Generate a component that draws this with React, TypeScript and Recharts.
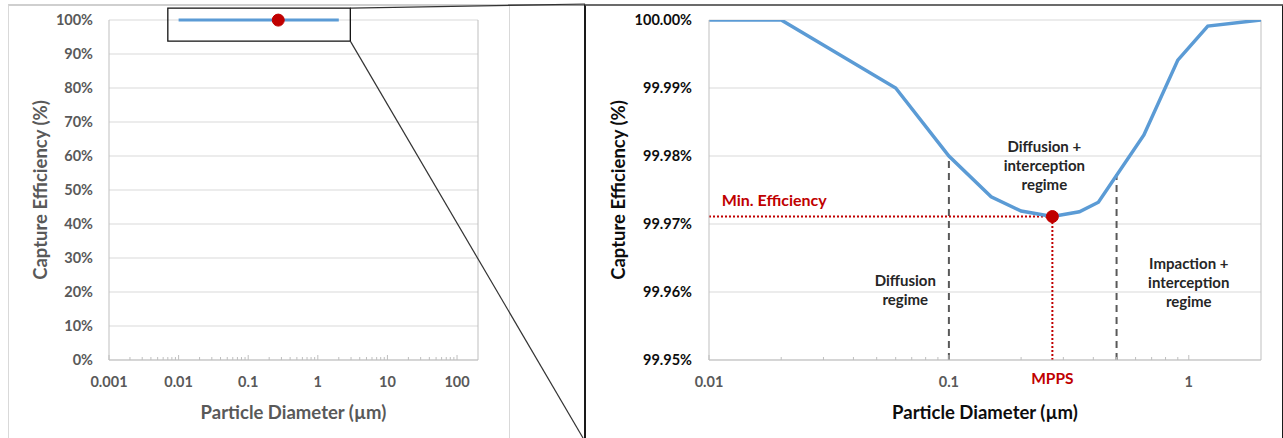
import React from 'react';
import {
  LineChart,
  Line,
  XAxis,
  YAxis,
  CartesianGrid,
  ReferenceLine,
  ReferenceDot,
  ReferenceArea,
  Label,
} from 'recharts';

// ---------- data ----------
const DIAMETERS = [0.01, 0.02, 0.06, 0.1, 0.15, 0.2, 0.27, 0.35, 0.42, 0.65, 0.9, 1.2, 2];
const EFFICIENCY = [100.0, 100.0, 99.99, 99.98, 99.9740, 99.9719, 99.9711, 99.9718, 99.9732, 99.9831, 99.9941, 99.9991, 100.0];

const MPPS = 0.27;
const MIN_EFF = 99.9711;

// left (full range) chart axes
const LEFT_X_DOMAIN = [0.001, 200];
const LEFT_X_MAJOR = [0.001, 0.01, 0.1, 1, 10, 100];
const LEFT_X_MINOR = [
  0.002, 0.003, 0.004, 0.005, 0.006, 0.007, 0.008, 0.009,
  0.02, 0.03, 0.04, 0.05, 0.06, 0.07, 0.08, 0.09,
  0.2, 0.3, 0.4, 0.5, 0.6, 0.7, 0.8, 0.9,
  2, 3, 4, 5, 6, 7, 8, 9,
  20, 30, 40, 50, 60, 70, 80, 90,
];
const LEFT_Y_TICKS = [0, 10, 20, 30, 40, 50, 60, 70, 80, 90, 100];

// right (zoomed) chart axes
const RIGHT_X_DOMAIN = [0.01, 2];
const RIGHT_X_MAJOR = [0.01, 0.1, 1];
const RIGHT_X_MINOR = [0.02, 0.03, 0.04, 0.05, 0.06, 0.07, 0.08, 0.09, 0.2, 0.3, 0.4, 0.5, 0.6, 0.7, 0.8, 0.9];
const RIGHT_Y_TICKS = [99.95, 99.96, 99.97, 99.98, 99.99, 100];

// regime boundaries (x, top of dashed line)
const BOUNDARY_X = [0.1, 0.5];
const BOUNDARY_TOP = [99.98, 99.9773];

// zoom box on the left chart and connector ends (data units of the left chart)
const ZOOM_BOX_X = [0.007, 2.93];
const ZOOM_BOX_Y = [93.8, 103.5];
const CONNECT_TOP = { x: 6900, y: 104.7 };
const CONNECT_BOTTOM = { x: 6457, y: -22.94 };

// text annotations
const ANNOTATION_LINES = [
  ['Diffusion +', 'interception', 'regime'],
  ['Diffusion', 'regime'],
  ['Impaction +', 'interception', 'regime'],
];
const ANNOTATION_X = [0.25, 0.0658, 1.0];
const ANNOTATION_Y = [99.98132, 99.96162, 99.96412];

const X_TITLE = 'Particle Diameter (µm)';
const Y_TITLE = 'Capture Efficiency (%)';

const FONT = 'Lato, "Open Sans", "DejaVu Sans", sans-serif';
const BLUE = '#5b9bd5';
const RED = '#c00000';
const GRID = '#d9d9d9';
const AXIS = '#bfbfbf';

const rows = DIAMETERS.map((d, i) => ({ d, e: EFFICIENCY[i] }));

const fmtNum = (v: number) => String(v);

const makeXTick = (majors: number[], color: string) => (props: any) => {
  const { x, y, payload } = props;
  const v = payload.value;
  const isMajor = majors.some((m) => Math.abs(m - v) < 1e-12);
  return (
    <g>
      <line x1={x} x2={x} y1={y} y2={y - (isMajor ? 5 : 3)} stroke={AXIS} strokeWidth={1} />
      {isMajor && (
        <text
          x={x}
          y={y + 27}
          textAnchor="middle"
          fill={color}
          fontSize={14.5}
          fontWeight="bold"
          fontFamily={FONT}
        >
          {fmtNum(v)}
        </text>
      )}
    </g>
  );
};

const yTitle = (dx: number, color: string) => (props: any) => {
  const vb = props.viewBox;
  const cx = vb.x + dx;
  const cy = vb.y + vb.height / 2;
  return (
    <text
      x={cx}
      y={cy}
      transform={`rotate(-90, ${cx}, ${cy})`}
      textAnchor="middle"
      dominantBaseline="central"
      fill={color}
      fontSize={18.5}
      fontWeight="bold"
      fontFamily={FONT}
    >
      {Y_TITLE}
    </text>
  );
};

const xTitle = (color: string) => (props: any) => {
  const vb = props.viewBox;
  return (
    <text
      x={vb.x + vb.width / 2}
      y={vb.y + 52}
      textAnchor="middle"
      dominantBaseline="central"
      fill={color}
      fontSize={18.5}
      fontWeight="bold"
      fontFamily={FONT}
    >
      {X_TITLE}
    </text>
  );
};

const textShape =
  (lines: string[], color: string, size: number, anchor: 'start' | 'middle', dy = 0, weight = 'bold') =>
  (p: any) => (
    <text
      x={p.cx}
      y={p.cy + dy}
      textAnchor={anchor}
      fill={color}
      fontSize={size}
      fontWeight={weight}
      fontFamily={FONT}
    >
      {lines.map((l, i) => (
        <tspan key={i} x={p.cx} dy={i === 0 ? '0.35em' : 19}>
          {l}
        </tspan>
      ))}
    </text>
  );

function LeftChart() {
  return (
    <LineChart width={600} height={438} data={rows} margin={{ top: 20, right: 122, bottom: 0, left: 0 }}>
      <CartesianGrid vertical={false} stroke={GRID} strokeWidth={1} />
      <XAxis
        dataKey="d"
        type="number"
        scale="log"
        domain={LEFT_X_DOMAIN}
        allowDataOverflow
        ticks={[...LEFT_X_MAJOR, ...LEFT_X_MINOR].sort((a, b) => a - b)}
        interval={0}
        height={78}
        tickSize={0}
        tickMargin={0}
        axisLine={{ stroke: AXIS }}
        tickLine={false}
        tick={makeXTick(LEFT_X_MAJOR, '#595959')}
      >
        <Label content={xTitle('#595959')} />
      </XAxis>
      <YAxis
        type="number"
        domain={[0, 100]}
        ticks={LEFT_Y_TICKS}
        interval={0}
        width={109}
        tickSize={0}
        tickMargin={16}
        axisLine={{ stroke: AXIS }}
        tickLine={false}
        tickFormatter={(v: number) => `${v}%`}
        tick={{ fill: '#595959', fontSize: 14.5, fontWeight: 'bold', fontFamily: FONT }}
      >
        <Label content={yTitle(40, '#595959')} />
      </YAxis>
      <ReferenceLine x={LEFT_X_DOMAIN[1]} stroke={AXIS} />
      <Line
        dataKey="e"
        type="linear"
        stroke={BLUE}
        strokeWidth={3}
        dot={false}
        isAnimationActive={false}
      />
      <ReferenceDot x={MPPS} y={MIN_EFF} r={6} fill={RED} stroke={RED} ifOverflow="visible" />
      <ReferenceArea
        x1={ZOOM_BOX_X[0]}
        x2={ZOOM_BOX_X[1]}
        y1={ZOOM_BOX_Y[0]}
        y2={ZOOM_BOX_Y[1]}
        fill="none"
        fillOpacity={0}
        stroke="#111"
        strokeWidth={1.3}
        ifOverflow="visible"
      />
      <ReferenceLine
        segment={[{ x: ZOOM_BOX_X[1], y: ZOOM_BOX_Y[1] }, CONNECT_TOP]}
        stroke="#333"
        strokeWidth={1.2}
        ifOverflow="visible"
      />
      <ReferenceLine
        segment={[{ x: ZOOM_BOX_X[1], y: ZOOM_BOX_Y[0] }, CONNECT_BOTTOM]}
        stroke="#333"
        strokeWidth={1.2}
        ifOverflow="visible"
      />
    </LineChart>
  );
}

function RightChart() {
  return (
    <LineChart width={698} height={438} data={rows} margin={{ top: 20, right: 22, bottom: 0, left: 0 }}>
      <CartesianGrid vertical={false} stroke={GRID} strokeWidth={1} />
      <XAxis
        dataKey="d"
        type="number"
        scale="log"
        domain={RIGHT_X_DOMAIN}
        allowDataOverflow
        ticks={[...RIGHT_X_MAJOR, ...RIGHT_X_MINOR].sort((a, b) => a - b)}
        interval={0}
        height={78}
        tickSize={0}
        tickMargin={0}
        axisLine={{ stroke: AXIS }}
        tickLine={false}
        tick={makeXTick(RIGHT_X_MAJOR, '#595959')}
      >
        <Label content={xTitle('#0d0d0d')} />
      </XAxis>
      <YAxis
        type="number"
        domain={[RIGHT_Y_TICKS[0], RIGHT_Y_TICKS[RIGHT_Y_TICKS.length - 1]]}
        ticks={RIGHT_Y_TICKS}
        interval={0}
        allowDataOverflow
        width={124}
        tickSize={0}
        tickMargin={17}
        axisLine={{ stroke: AXIS }}
        tickLine={false}
        tickFormatter={(v: number) => `${v.toFixed(2)}%`}
        tick={{ fill: '#0d0d0d', fontSize: 14.5, fontWeight: 'bold', fontFamily: FONT }}
      >
        <Label content={yTitle(33, '#0d0d0d')} />
      </YAxis>
      <ReferenceLine x={RIGHT_X_DOMAIN[1]} stroke={AXIS} />
      {BOUNDARY_X.map((bx, i) => (
        <ReferenceLine
          key={`b${i}`}
          segment={[
            { x: bx, y: RIGHT_Y_TICKS[0] },
            { x: bx, y: BOUNDARY_TOP[i] },
          ]}
          stroke="#595959"
          strokeWidth={2}
          strokeDasharray="7 5"
        />
      ))}
      <ReferenceLine
        segment={[
          { x: RIGHT_X_DOMAIN[0], y: MIN_EFF },
          { x: MPPS, y: MIN_EFF },
        ]}
        stroke={RED}
        strokeWidth={2}
        strokeDasharray="2 2"
      />
      <ReferenceLine
        segment={[
          { x: MPPS, y: RIGHT_Y_TICKS[0] },
          { x: MPPS, y: MIN_EFF },
        ]}
        stroke={RED}
        strokeWidth={2}
        strokeDasharray="2 2"
      />
      <Line
        dataKey="e"
        type="linear"
        stroke={BLUE}
        strokeWidth={3.5}
        dot={false}
        isAnimationActive={false}
      />
      <ReferenceDot x={MPPS} y={MIN_EFF} r={6} fill={RED} stroke={RED} ifOverflow="visible" />
      {ANNOTATION_LINES.map((lines, i) => (
        <ReferenceDot
          key={`a${i}`}
          x={ANNOTATION_X[i]}
          y={ANNOTATION_Y[i]}
          r={1}
          ifOverflow="visible"
          shape={textShape(lines, '#262626', 15, 'middle')}
        />
      ))}
      <ReferenceDot
        x={0.0113}
        y={99.97353}
        r={1}
        ifOverflow="visible"
        shape={textShape(['Min. Efficiency'], RED, 16, 'start')}
      />
      <ReferenceDot
        x={MPPS}
        y={RIGHT_Y_TICKS[0]}
        r={1}
        ifOverflow="visible"
        shape={textShape(['MPPS'], RED, 15.5, 'middle', 19)}
      />
    </LineChart>
  );
}

export default function App() {
  return (
    <div style={{ position: 'absolute', left: 0, top: 0, width: 1283, height: 438, background: '#fff', overflow: 'hidden' }}>
      {/* panel frames */}
      <div style={{ position: 'absolute', left: 8, top: 4, width: 500, height: 440, borderLeft: '1px solid #d9d9d9', borderRight: '1px solid #d9d9d9', borderTop: '2px solid #cfcfcf' }} />
      <div style={{ position: 'absolute', left: 508, top: 4, width: 78, height: 0, borderTop: '2px solid #9a9a9a' }} />
      <div style={{ position: 'absolute', left: 584, top: 4, width: 696, height: 440, borderLeft: '2px solid #1a1a1a', borderRight: '2px solid #1a1a1a', borderTop: '2px solid #6b6b6b' }} />
      <div style={{ position: 'absolute', left: 0, top: 0 }}>
        <LeftChart />
      </div>
      <div style={{ position: 'absolute', left: 585, top: 0 }}>
        <RightChart />
      </div>
    </div>
  );
}
